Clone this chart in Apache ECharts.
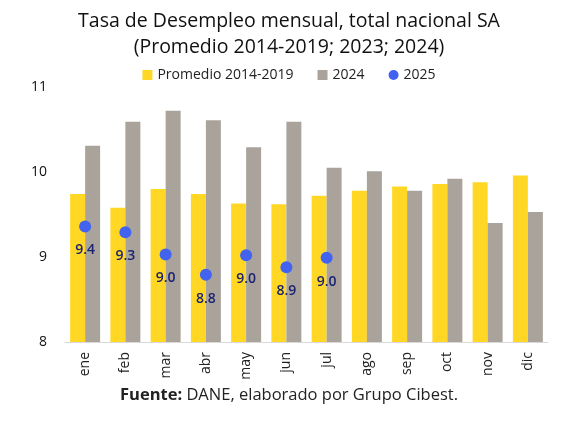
<!DOCTYPE html>
<html>
<head>
<meta charset="utf-8">
<script src="https://cdn.jsdelivr.net/npm/echarts@6/dist/echarts.min.js"></script>
<style>
  html, body { margin: 0; padding: 0; background: #fff; }
  #box { width: 578px; height: 433px; }
</style>
</head>
<body>
<div id="box"></div>
<script>
// datos
let meses = ["ene", "feb", "mar", "abr", "may", "jun", "jul", "ago", "sep", "oct", "nov", "dic"];
let promedio = [9.74, 9.58, 9.80, 9.74, 9.63, 9.62, 9.72, 9.78, 9.83, 9.86, 9.88, 9.96];
let anio2024 = [10.31, 10.59, 10.72, 10.61, 10.29, 10.59, 10.05, 10.01, 9.78, 9.92, 9.40, 9.53];
let anio2025 = [9.36, 9.29, 9.03, 8.79, 9.02, 8.88, 8.99];
let yTicks = [8, 9, 10, 11];

let fuente = "Open Sans";
let chart = echarts.init(document.getElementById("box"), null, { renderer: "canvas" });

let option = {
  backgroundColor: "#fff",
  animation: false,
  title: {
    text: "Tasa de Desempleo mensual, total nacional SA\n(Promedio 2014-2019; 2023; 2024)",
    left: "center",
    top: 3,
    textStyle: { fontFamily: fuente, fontSize: 19.5, fontWeight: "normal", color: "#111", lineHeight: 26 }
  },
  legend: {
    top: 63,
    left: "center",
    itemWidth: 10,
    itemHeight: 10,
    itemGap: 24,
    textStyle: { fontFamily: fuente, fontSize: 14, color: "#222" },
    data: [
      { name: "Promedio 2014-2019", icon: "rect" },
      { name: "2024", icon: "rect" },
      { name: "2025", icon: "circle", itemStyle: { opacity: 1 } }
    ]
  },
  grid: { left: 65, right: 30, top: 87, bottom: 91 },
  xAxis: {
    type: "category",
    data: meses,
    axisLine: { lineStyle: { color: "#d9d9d9" } },
    axisTick: { show: false },
    axisLabel: { rotate: 90, fontFamily: fuente, fontSize: 14, color: "#222", margin: 10 }
  },
  yAxis: {
    type: "value",
    min: yTicks[0],
    max: yTicks[yTicks.length - 1],
    interval: 1,
    splitLine: { show: false },
    axisLine: { show: false },
    axisLabel: { fontFamily: fuente, fontSize: 14, color: "#111", margin: 18 }
  },
  series: [
    {
      name: "Promedio 2014-2019",
      type: "bar",
      data: promedio,
      barWidth: 15,
      barGap: "0%",
      itemStyle: { color: "#FFD724" }
    },
    {
      name: "2024",
      type: "bar",
      data: anio2024,
      barWidth: 15,
      barGap: "0%",
      itemStyle: { color: "#A9A39B" }
    },
    {
      name: "2025",
      type: "scatter",
      data: anio2025,
      symbolSize: 12,
      itemStyle: { color: "#4163F0", opacity: 1 },
      label: {
        show: true,
        position: "bottom",
        distance: 11,
        fontFamily: fuente,
        fontSize: 14,
        fontWeight: 600,
        color: "#1B2370",
        formatter: p => p.value.toFixed(1)
      },
      z: 5
    }
  ],
  graphic: [
    {
      type: "text",
      left: "center",
      top: 387,
      style: {
        text: "{b|Fuente:} DANE, elaborado por Grupo Cibest.",
        font: "16.5px " + fuente,
        fill: "#222",
        rich: {
          b: { fontFamily: fuente, fontSize: 16.5, fontWeight: "bold", fill: "#222" }
        }
      }
    }
  ]
};

chart.setOption(option);
</script>
</body>
</html>
